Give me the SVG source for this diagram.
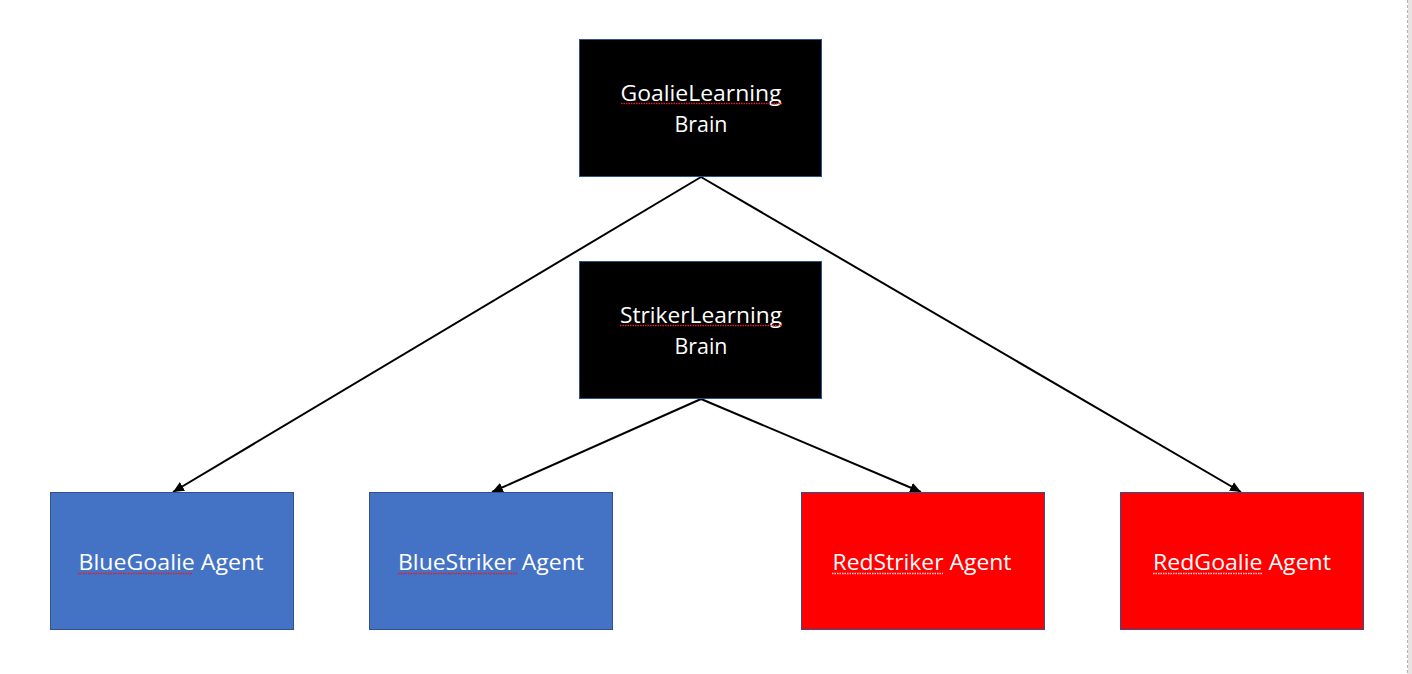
<svg xmlns="http://www.w3.org/2000/svg" width="1412" height="674" viewBox="0 0 1412 674">
<defs>
<marker id="arr" markerUnits="userSpaceOnUse" markerWidth="12" markerHeight="10" refX="11" refY="5" orient="auto">
<path d="M0,0 L11,5 L0,10 Z" fill="#000"/>
</marker>
</defs>
<style>
.box{stroke:#2f528f;stroke-width:1}
.blk{fill:#000}
.blu{fill:#4472c4}
.red{fill:#ff0000}
.t{font-family:"Open Sans","Noto Sans",sans-serif;font-size:21px;fill:#fff;text-anchor:middle}
.sq{stroke:#e02020;stroke-width:1.3;stroke-dasharray:1.5 1;fill:none}
.sqw{stroke:#ffd0d0;stroke-width:1.3;stroke-dasharray:1.5 1;fill:none}
.c{stroke:#000;stroke-width:2;fill:none;marker-end:url(#arr)}
</style>
<rect x="0" y="0" width="1412" height="674" fill="#fff"/>
<rect x="1408" y="0" width="4" height="674" fill="#e8e4e4"/>
<line x1="1407.5" y1="0" x2="1407.5" y2="674" stroke="#b8b0b0" stroke-width="1" stroke-dasharray="3 2"/>
<g id="connectors">
<line class="c" x1="701" y1="177" x2="173" y2="492"/>
<line class="c" x1="701" y1="177" x2="1241" y2="492"/>
<line class="c" x1="701" y1="399" x2="492" y2="492"/>
<line class="c" x1="701" y1="399" x2="921" y2="492"/>
</g>
<g id="goalie-brain">
<rect class="box blk" x="579.5" y="39.5" width="242" height="137"/>
<text class="t" x="701" y="101" textLength="161" lengthAdjust="spacingAndGlyphs">GoalieLearning</text>
<text class="t" x="701" y="132" textLength="53" lengthAdjust="spacingAndGlyphs">Brain</text>
<line class="sq" x1="621" y1="103.5" x2="782" y2="103.5"/>
</g>
<g id="striker-brain">
<rect class="box blk" x="579.5" y="261.5" width="242" height="137"/>
<text class="t" x="701" y="323" textLength="162" lengthAdjust="spacingAndGlyphs">StrikerLearning</text>
<text class="t" x="701" y="354" textLength="53" lengthAdjust="spacingAndGlyphs">Brain</text>
<line class="sq" x1="620" y1="325.5" x2="782" y2="325.5"/>
</g>
<g id="blue-goalie">
<rect class="box blu" x="50.5" y="492.5" width="243" height="137"/>
<text class="t" x="171" y="570" textLength="185" lengthAdjust="spacingAndGlyphs">BlueGoalie Agent</text>
<line class="sq" x1="78" y1="573.5" x2="193" y2="573.5"/>
</g>
<g id="blue-striker">
<rect class="box blu" x="369.5" y="492.5" width="243" height="137"/>
<text class="t" x="491" y="570" textLength="186" lengthAdjust="spacingAndGlyphs">BlueStriker Agent</text>
<line class="sq" x1="398" y1="573.5" x2="517" y2="573.5"/>
</g>
<g id="red-striker">
<rect class="box red" x="801.5" y="492.5" width="243" height="137"/>
<text class="t" x="922" y="570" textLength="179" lengthAdjust="spacingAndGlyphs">RedStriker Agent</text>
<line class="sqw" x1="832" y1="573.5" x2="943" y2="573.5"/>
</g>
<g id="red-goalie">
<rect class="box red" x="1120.5" y="492.5" width="243" height="137"/>
<text class="t" x="1242" y="570" textLength="178" lengthAdjust="spacingAndGlyphs">RedGoalie Agent</text>
<line class="sqw" x1="1153" y1="573.5" x2="1263" y2="573.5"/>
</g>
</svg>
